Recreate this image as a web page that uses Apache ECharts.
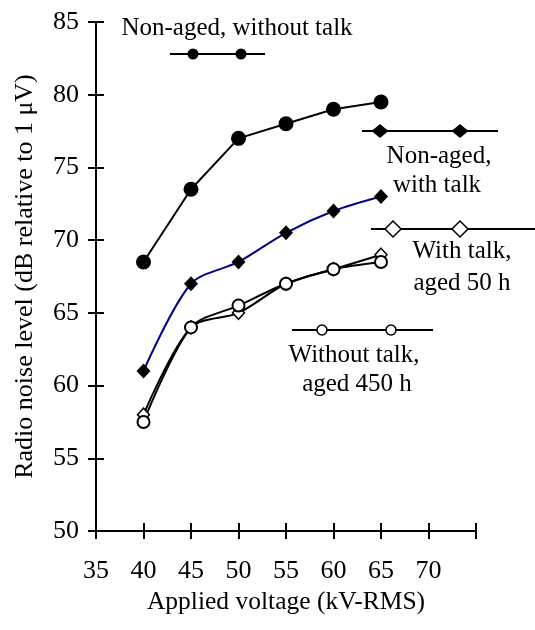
<!DOCTYPE html>
<html>
<head>
<meta charset="utf-8">
<script src="https://cdn.jsdelivr.net/npm/echarts@6/dist/echarts.min.js"></script>
<style>html,body{margin:0;padding:0;background:#fff}#c{width:535px;height:630px}</style>
</head>
<body>
<div id="c"></div>
<script>
const voltage = [40, 45, 50, 55, 60, 65];
const nonAgedNoTalk = [68.5, 73.5, 77, 78, 79, 79.5];
const nonAgedTalk = [61, 67, 68.5, 70.5, 72, 73];
const talkAged50 = [58, 64, 65, 67, 68, 69];
const noTalkAged450 = [57.5, 64, 65.5, 67, 68, 68.5];
const xTicks = [35, 40, 45, 50, 55, 60, 65, 70];
const seriesNames = ['Non-aged, without talk', 'Non-aged, with talk', 'With talk, aged 50 h', 'Without talk, aged 450 h'];

const FONT = 'Liberation Serif';
const pairs = (ys) => voltage.map((v, i) => [v, ys[i]]);
const chart = echarts.init(document.getElementById('c'));

function axisBase(inside) {
  return {
    axisLine: { show: !inside, lineStyle: { color: '#000', width: 2 } },
    axisTick: { show: true, inside: inside, length: 8, lineStyle: { color: '#000', width: 2 } },
    splitLine: { show: false }
  };
}

const diamond = (cx, cy, rx, ry) => ({ type: 'polygon', shape: { points: [[cx, cy - ry], [cx + rx, cy], [cx, cy + ry], [cx - rx, cy]] } });

function legendKey(x1, x2, y, mx, kind, color) {
  const els = [{ type: 'line', shape: { x1: x1, y1: y, x2: x2, y2: y }, style: { stroke: color, lineWidth: 2 } }];
  mx.forEach(m => {
    let el;
    if (kind === 'circle') el = { type: 'circle', shape: { cx: m, cy: y, r: 5.5 }, style: { fill: '#000' } };
    else if (kind === 'ecircle') el = { type: 'circle', shape: { cx: m, cy: y, r: 5 }, style: { fill: '#fff', stroke: '#000', lineWidth: 1.5 } };
    else if (kind === 'diamond') { el = diamond(m, y, 8.5, 7); el.style = { fill: '#000' }; }
    else { el = diamond(m, y, 8, 8); el.style = { fill: '#fff', stroke: '#000', lineWidth: 1.5 }; }
    els.push(el);
  });
  return els;
}
function txt(x, y, t) {
  return { type: 'text', x: x, y: y, style: { text: t, font: '25px "' + FONT + '"', fill: '#000', align: 'center', verticalAlign: 'middle' } };
}

chart.setOption({
  animation: false,
  grid: { left: 96, right: 59, top: 22, bottom: 99 },
  xAxis: [
    Object.assign(axisBase(false), {
      type: 'value', min: 35, max: 75, interval: 5,
      name: 'Applied voltage (kV-RMS)', nameLocation: 'middle', nameGap: 57,
      nameTextStyle: { fontFamily: FONT, fontSize: 25.5, color: '#000' },
      axisLabel: { fontFamily: FONT, fontSize: 26, color: '#000', margin: 27,
        formatter: v => xTicks.indexOf(v) >= 0 ? String(v) : '' }
    }),
    Object.assign(axisBase(true), { type: 'value', min: 35, max: 75, interval: 5, position: 'bottom', axisLabel: { show: false } })
  ],
  yAxis: [
    Object.assign(axisBase(false), {
      type: 'value', min: 50, max: 85, interval: 5,
      name: 'Radio noise level (dB relative to 1 μV)', nameLocation: 'middle', nameGap: 58,
      nameTextStyle: { fontFamily: FONT, fontSize: 26, color: '#000' },
      axisLabel: { fontFamily: FONT, fontSize: 26, color: '#000', margin: 17 }
    }),
    Object.assign(axisBase(true), { type: 'value', min: 50, max: 85, interval: 5, position: 'left', axisLabel: { show: false } })
  ],
  series: [
    { name: seriesNames[0], type: 'line', data: pairs(nonAgedNoTalk), symbol: 'circle', symbolSize: 15,
      itemStyle: { color: '#000' }, lineStyle: { color: '#000', width: 2 } },
    { name: seriesNames[1], type: 'line', data: pairs(nonAgedTalk), smooth: 0.3, symbol: 'diamond', symbolSize: [14, 15],
      itemStyle: { color: '#000' }, lineStyle: { color: '#00008b', width: 2 } },
    { name: seriesNames[2], type: 'line', data: pairs(talkAged50), smooth: 0.3, symbol: 'diamond', symbolSize: [12, 13],
      itemStyle: { color: '#fff', borderColor: '#000', borderWidth: 1.5 }, lineStyle: { color: '#000', width: 2 } },
    { name: seriesNames[3], type: 'line', data: pairs(noTalkAged450), smooth: 0.3, symbol: 'circle', symbolSize: 12,
      itemStyle: { color: '#fff', borderColor: '#000', borderWidth: 2 }, lineStyle: { color: '#000', width: 2 } }
  ],
  graphic: [].concat(
    legendKey(170, 265, 54, [193, 241], 'circle', '#000'),
    [txt(237, 28, seriesNames[0])],
    legendKey(362, 498, 131, [380, 460], 'diamond', '#000'),
    [txt(439, 156, 'Non-aged,'), txt(437, 185, 'with talk')],
    legendKey(371, 535, 229, [393, 460], 'ediamond', '#000'),
    [txt(462, 251, 'With talk,'), txt(462, 283, 'aged 50 h')],
    legendKey(292, 433, 330, [322, 391], 'ecircle', '#000'),
    [txt(354, 355, 'Without talk,'), txt(357, 384, 'aged 450 h')]
  )
});
</script>
</body>
</html>
